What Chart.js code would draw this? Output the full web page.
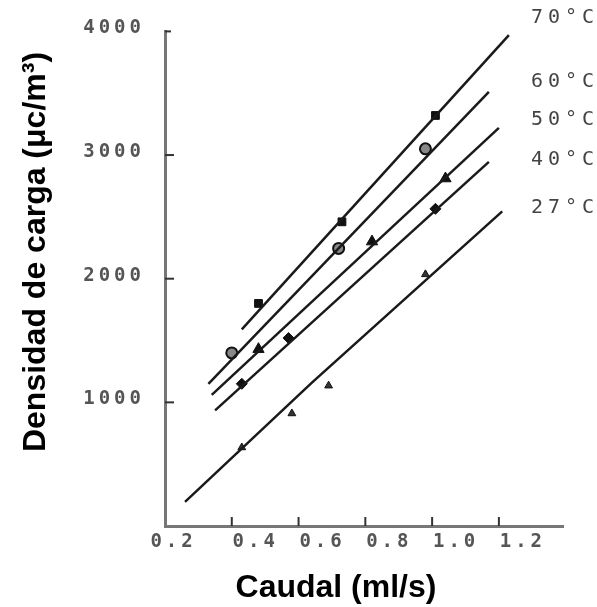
<!DOCTYPE html>
<html>
<head>
<meta charset="utf-8">
<script src="https://cdn.jsdelivr.net/npm/chart.js@4.4.0/dist/chart.umd.min.js"></script>
<style>
  html, body { margin: 0; padding: 0; background: #fff; }
  #wrap { width: 597px; height: 607px; }
</style>
</head>
<body>
<div id="wrap"><canvas id="chart"></canvas></div>
<script>
// values
const temps = ['70°C', '60°C', '50°C', '40°C', '27°C'];
const xTicks = [0.2, 0.4, 0.6, 0.8, 1.0, 1.2];
const yTicks = [1000, 2000, 3000, 4000];

// fitted lines (end points as drawn)
const lineX70 = [0.43, 1.23];       const lineY70 = [1590, 3970];
const lineX60 = [0.33, 1.17];       const lineY60 = [1150, 3510];
const lineX50 = [0.34, 1.20];       const lineY50 = [1060, 3220];
const lineX40 = [0.35, 1.17];       const lineY40 = [935, 2945];
const lineX27 = [0.26, 0.64, 1.21]; const lineY27 = [195, 1160, 2545];

// measured points
const markX70 = [0.48, 0.73, 1.01];       const markY70 = [1800, 2460, 3320];
const markX60 = [0.40, 0.72, 0.98];       const markY60 = [1400, 2245, 3050];
const markX50 = [0.48, 0.82, 1.04];       const markY50 = [1430, 2300, 2810];
const markX40 = [0.43, 0.57, 1.01];       const markY40 = [1150, 1520, 2565];
const markX27 = [0.43, 0.58, 0.69, 0.98]; const markY27 = [635, 910, 1135, 2035];

function pts(xs, ys) {
  return xs.map((x, i) => ({ x: x, y: ys[i] }));
}

const lines = [[lineX70, lineY70], [lineX60, lineY60], [lineX50, lineY50], [lineX40, lineY40], [lineX27, lineY27]];
const marks = [[markX70, markY70], [markX60, markY60], [markX50, markY50], [markX40, markY40], [markX27, markY27]];
const markStyle = [
  { pointStyle: 'rect', radius: 5.5, bg: '#111', bw: 1 },
  { pointStyle: 'circle', radius: 5.5, bg: '#888', bw: 2 },
  { pointStyle: 'triangle', radius: 6.5, bg: '#111', bw: 1 },
  { pointStyle: 'rectRot', radius: 5.5, bg: '#111', bw: 1 },
  { pointStyle: 'triangle', radius: 4.5, bg: '#333', bw: 1 }
];
const labelTop = [18, 82, 120, 160, 208];

const datasets = [];
lines.forEach((l, i) => {
  datasets.push({
    type: 'line',
    label: temps[i],
    data: pts(l[0], l[1]),
    borderColor: '#1a1a1a',
    borderWidth: 2.5,
    pointRadius: 0,
    tension: 0,
    fill: false
  });
});
marks.forEach((m, i) => {
  const s = markStyle[i];
  datasets.push({
    type: 'scatter',
    label: temps[i] + ' datos',
    data: pts(m[0], m[1]),
    pointStyle: s.pointStyle,
    pointRadius: s.radius,
    backgroundColor: s.bg,
    borderColor: '#111',
    borderWidth: s.bw
  });
});

const tickFont = { family: 'DejaVu Sans Mono', size: 19, weight: 'bold' };

const decor = {
  id: 'decor',
  beforeDraw(chart) {
    chart.ctx.letterSpacing = '4px';
  },
  afterDraw(chart) {
    const ctx = chart.ctx;
    const x = chart.scales.x, y = chart.scales.y;
    const left = chart.chartArea.left, bottom = chart.chartArea.bottom;
    ctx.save();
    // inward tick marks
    ctx.strokeStyle = '#333';
    ctx.lineWidth = 2;
    yTicks.forEach(v => {
      const py = y.getPixelForValue(v);
      ctx.beginPath();
      ctx.moveTo(left, py);
      ctx.lineTo(left + (v === 4000 ? 6 : 9), py);
      ctx.stroke();
    });
    xTicks.slice(1).forEach(v => {
      const px = x.getPixelForValue(v);
      ctx.beginPath();
      ctx.moveTo(px, bottom);
      ctx.lineTo(px, bottom - 9);
      ctx.stroke();
    });

    // temperature labels
    ctx.letterSpacing = '5px';
    ctx.font = '20px "DejaVu Sans Mono"';
    ctx.fillStyle = '#444';
    ctx.textAlign = 'left';
    ctx.textBaseline = 'middle';
    temps.forEach((t, i) => ctx.fillText(t, 531, labelTop[i]));

    // axis titles
    ctx.letterSpacing = '0px';
    ctx.fillStyle = '#000';
    ctx.font = 'bold 32px "Liberation Sans", Arial, sans-serif';
    ctx.textAlign = 'center';
    ctx.fillText('Caudal (ml/s)', 336, 588);
    ctx.translate(36, 252);
    ctx.rotate(-Math.PI / 2);
    ctx.fillText('Densidad de carga (μc/m³)', 0, 0);
    ctx.restore();
    ctx.letterSpacing = '0px';
  }
};

new Chart(document.getElementById('chart'), {
  data: { datasets: datasets },
  options: {
    responsive: true,
    maintainAspectRatio: false,
    animation: false,
    devicePixelRatio: 1,
    layout: { padding: { top: 29, right: 34, left: 0, bottom: 0 } },
    plugins: { legend: { display: false }, tooltip: { enabled: false } },
    scales: {
      x: {
        type: 'linear',
        min: 0.2,
        max: 1.392,
        afterFit: s => { s.height = 81; },
        afterBuildTicks: s => { s.ticks = xTicks.map(v => ({ value: v })); },
        grid: { drawOnChartArea: false, drawTicks: false },
        border: { color: '#777', width: 3 },
        ticks: {
          autoSkip: false,
          maxRotation: 0,
          padding: 5,
          labelOffset: 24,
          color: '#555',
          font: tickFont,
          callback: v => Math.abs(v - 0.2) < 1e-9 ? '0.2  ' : v.toFixed(1)
        }
      },
      y: {
        type: 'linear',
        min: 0,
        max: 4000,
        afterFit: s => { s.width = 165; },
        afterBuildTicks: s => { s.ticks = yTicks.map(v => ({ value: v })); },
        grid: { drawOnChartArea: false, drawTicks: false },
        border: { color: '#777', width: 3 },
        ticks: {
          padding: 20,
          labelOffset: -3,
          color: '#555',
          font: tickFont,
          callback: v => String(v)
        }
      }
    }
  },
  plugins: [decor]
});
</script>
</body>
</html>
